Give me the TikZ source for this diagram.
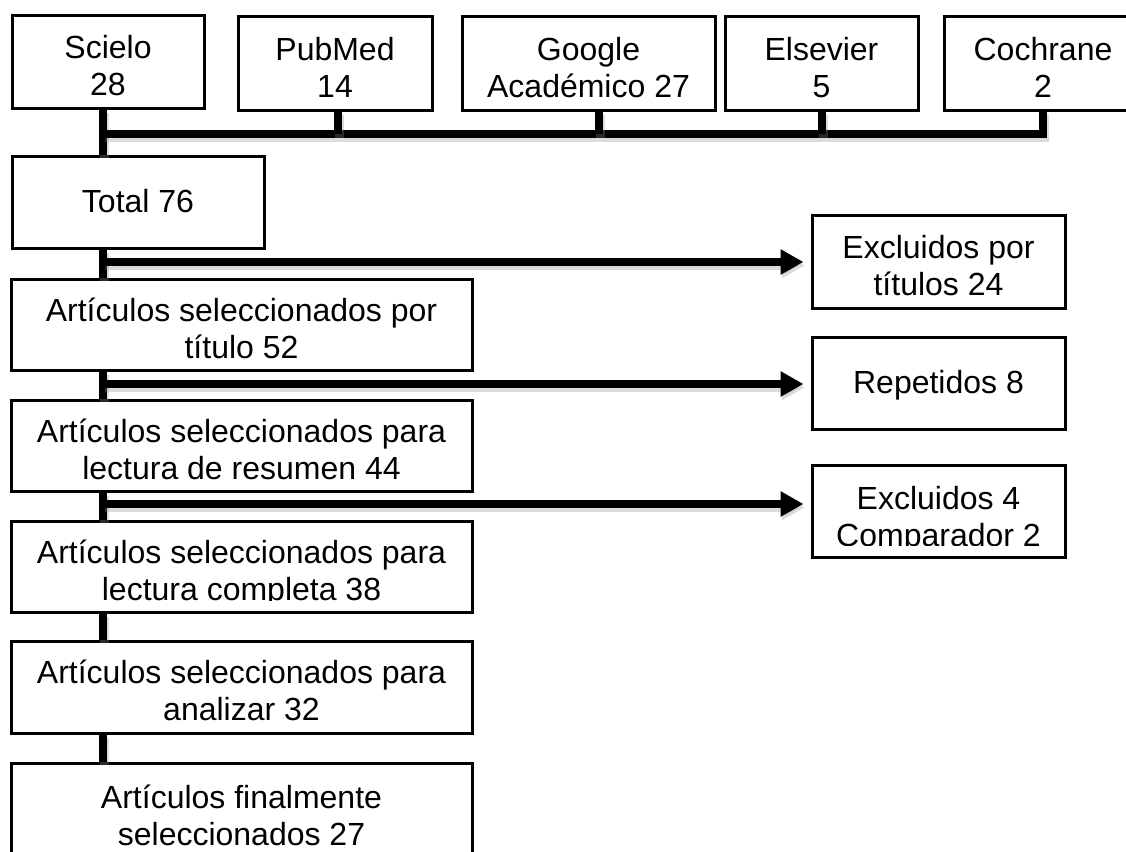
\documentclass[tikz,border=0pt]{standalone}
\usepackage{fontspec}
\setmainfont{Liberation Sans}
\usetikzlibrary{arrows.meta}
\newcommand{\myTS}{\rule{0pt}{26pt}}
\newcommand{\myBS}{\rule[-8pt]{0pt}{8pt}}
\tikzset{
  txt/.style={inner sep=0pt, align=center, font=\fontsize{32}{37}\selectfont},
  one/.style={txt, yshift=-1.5pt},
  two/.style={txt, yshift=-6pt},
  box/.style={draw, line width=3pt, fill=white, inner sep=0pt},
  conn/.style={line width=8pt, line join=miter,
    preaction={draw=black!45, opacity=0.3, line width=9pt,
      transform canvas={xshift=1.5pt,yshift=-3.5pt}}},
  arr/.style={conn, -{Triangle[length=23pt,width=24pt]}, shorten >=7pt},
}
\begin{document}
\begin{tikzpicture}[x=1pt,y=-1pt]
\useasboundingbox (0,0) rectangle (1126,851);
% top row
\node[box, minimum width=192pt, minimum height=92pt] (scielo) at (108,62) {};
\node[box, minimum width=194pt, minimum height=93pt] (pubmed) at (335,63.5) {};
\node[box, minimum width=253pt, minimum height=93pt] (google) at (588.5,63.5) {};
\node[box, minimum width=193pt, minimum height=93pt] (elsevier) at (821.5,63.5) {};
\node[box, minimum width=198pt, minimum height=93pt] (cochrane) at (1043,63.5) {};
% main column
\node[box, minimum width=252pt, minimum height=92pt] (total) at (138,202) {};
\node[box, minimum width=461pt, minimum height=91pt] (a52) at (241.5,324.5) {};
\node[box, minimum width=461pt, minimum height=91pt] (a44) at (241.5,445.5) {};
\node[box, minimum width=461pt, minimum height=91pt] (a38) at (241.5,566.5) {};
\node[box, minimum width=461pt, minimum height=92pt] (a32) at (241.5,687) {};
\node[box, minimum width=461pt, minimum height=94pt] (afin) at (241.5,810) {};
% right column
\node[box, minimum width=253pt, minimum height=93pt] (e24) at (938.5,261.5) {};
\node[box, minimum width=253pt, minimum height=92pt] (rep) at (938.5,383) {};
\node[box, minimum width=253pt, minimum height=92pt] (e4) at (938.5,511) {};
% texts
\node[two] (scielot) at (scielo.center) {\myTS Scielo\\28\myBS};
\node[two] (pubmedt) at (pubmed.center) {\myTS PubMed\\14\myBS};
\node[two] (googlet) at (google.center) {\myTS Google\\Académico 27\myBS};
\node[two] (elseviert) at (elsevier.center) {\myTS Elsevier\\5\myBS};
\node[two] (cochranet) at (cochrane.center) {\myTS Cochrane\\2\myBS};
\node[one] (totalt) at (total.center) {\myTS Total 76\myBS};
\node[two] (a52t) at (a52.center) {\myTS Artículos seleccionados por\\título 52\myBS};
\node[two] (a44t) at (a44.center) {\myTS Artículos seleccionados para\\lectura de resumen 44\myBS};
\node[two] (a32t) at (a32.center) {\myTS Artículos seleccionados para\\analizar 32\myBS};
\node[two, yshift=-2pt] (afint) at (afin.center) {\myTS Artículos finalmente\\seleccionados 27\myBS};
\node[two] (e24t) at (e24.center) {\myTS Excluidos por\\títulos 24\myBS};
\node[one] (rept) at (rep.center) {\myTS Repetidos 8\myBS};
\begin{scope}
\clip (a38.north west) rectangle ([yshift=13pt]a38.south east);
\node[two] (a38t) at (a38.center) {\myTS Artículos seleccionados para\\lectura completa 38\myBS};
\end{scope}
\begin{scope}
\clip (e4.north west) rectangle ([yshift=13pt]e4.south east);
\node[two, yshift=-1.5pt] (e4t) at (e4.center) {\myTS Excluidos 4\\Comparador 2\myBS};
\end{scope}
% coordinates
\coordinate (tx) at (103,0);
\coordinate (bus) at (103,134);
\coordinate (sS) at ([xshift=-5pt]scielo.south);
\coordinate (pS) at ([xshift=3pt]pubmed.south);
\coordinate (gS) at ([xshift=10.5pt]google.south);
\coordinate (eS) at ([xshift=0.5pt]elsevier.south);
\coordinate (b1) at (103,262);
\coordinate (b2) at (103,384);
\coordinate (b3) at (103,504);
% connectors
\draw[conn] (sS) -- (total.north -| tx);
\draw[conn] (bus) -- (bus -| cochrane.south) -- (cochrane.south);
\draw[conn] (pS) -- (pS |- bus);
\draw[conn] (gS) -- (gS |- bus);
\draw[conn] (eS) -- (eS |- bus);
\draw[conn] (total.south -| tx) -- (a52.north -| tx);
\draw[conn] (a52.south -| tx) -- (a44.north -| tx);
\draw[conn] (a44.south -| tx) -- (a38.north -| tx);
\draw[conn] (a38.south -| tx) -- (a32.north -| tx);
\draw[conn] (a32.south -| tx) -- (afin.north -| tx);
\draw[arr] (b1) -- (b1 -| e24.west);
\draw[arr] (b2) -- (b2 -| rep.west);
\draw[arr] (b3) -- (b3 -| e4.west);
\end{tikzpicture}
\end{document}
